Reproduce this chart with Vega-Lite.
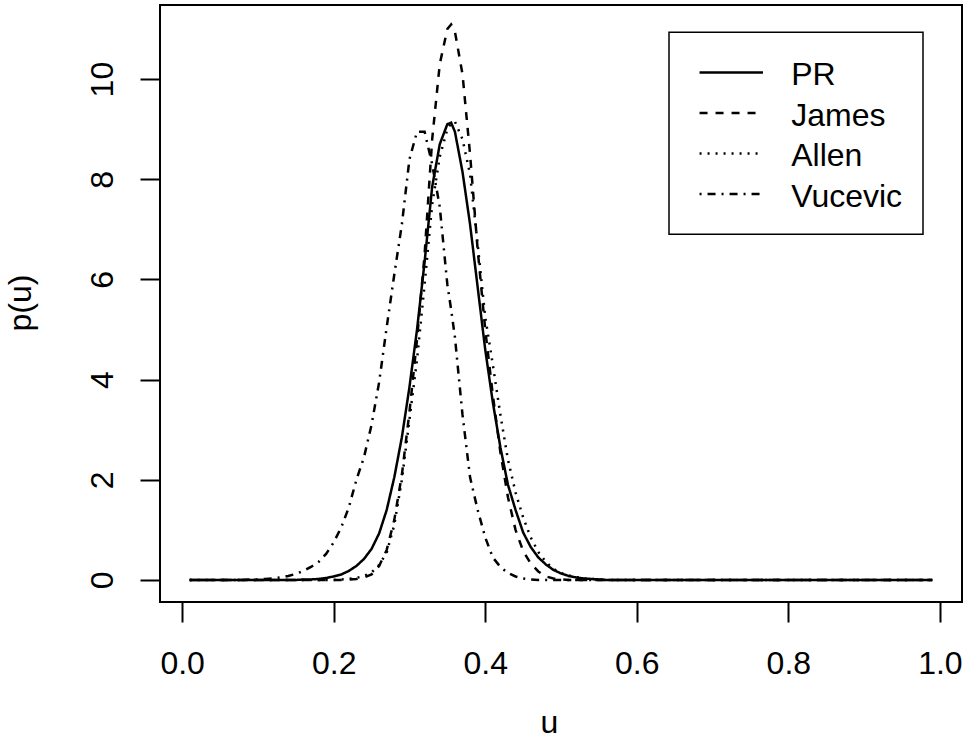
{
  "$schema": "https://vega.github.io/schema/vega-lite/v6.json",
  "width": 802,
  "height": 597,
  "autosize": "none",
  "padding": {"left": 160, "top": 5, "right": 10, "bottom": 137},
  "background": "white",
  "config": {
    "view": {"stroke": "black", "strokeWidth": 2},
    "axis": {
      "domain": false,
      "grid": false,
      "tickColor": "black",
      "tickWidth": 2,
      "tickSize": 20,
      "labelFont": "Liberation Sans",
      "labelFontSize": 32,
      "labelColor": "black",
      "titleFont": "Liberation Sans",
      "titleFontSize": 32,
      "titleFontWeight": "normal",
      "titleColor": "black",
      "labelFlush": false,
      "labelOverlap": false
    },
    "legend": {
      "labelFont": "Liberation Sans",
      "labelFontSize": 32,
      "labelColor": "black"
    }
  },
  "data": {
    "values": [
      {"u": 0.01, "PR": 0, "James": 0, "Allen": 0, "Vucevic": 0},
      {"u": 0.02, "PR": 0, "James": 0, "Allen": 0, "Vucevic": 0},
      {"u": 0.03, "PR": 0, "James": 0, "Allen": 0, "Vucevic": 0},
      {"u": 0.04, "PR": 0, "James": 0, "Allen": 0, "Vucevic": 0},
      {"u": 0.05, "PR": 0, "James": 0, "Allen": 0, "Vucevic": 0},
      {"u": 0.06, "PR": 0, "James": 0, "Allen": 0, "Vucevic": 0},
      {"u": 0.07, "PR": 0, "James": 0, "Allen": 0, "Vucevic": 0},
      {"u": 0.08, "PR": 0, "James": 0, "Allen": 0, "Vucevic": 0},
      {"u": 0.09, "PR": 0, "James": 0, "Allen": 0, "Vucevic": 0.01},
      {"u": 0.10, "PR": 0, "James": 0, "Allen": 0, "Vucevic": 0.01},
      {"u": 0.11, "PR": 0, "James": 0, "Allen": 0, "Vucevic": 0.02},
      {"u": 0.12, "PR": 0, "James": 0, "Allen": 0, "Vucevic": 0.03},
      {"u": 0.13, "PR": 0, "James": 0, "Allen": 0, "Vucevic": 0.05},
      {"u": 0.14, "PR": 0, "James": 0, "Allen": 0, "Vucevic": 0.08},
      {"u": 0.15, "PR": 0, "James": 0, "Allen": 0, "Vucevic": 0.12},
      {"u": 0.16, "PR": 0.01, "James": 0, "Allen": 0, "Vucevic": 0.18},
      {"u": 0.17, "PR": 0.01, "James": 0, "Allen": 0, "Vucevic": 0.26},
      {"u": 0.18, "PR": 0.02, "James": 0, "Allen": 0, "Vucevic": 0.36},
      {"u": 0.19, "PR": 0.04, "James": 0, "Allen": 0, "Vucevic": 0.52},
      {"u": 0.20, "PR": 0.07, "James": 0, "Allen": 0, "Vucevic": 0.75},
      {"u": 0.21, "PR": 0.11, "James": 0, "Allen": 0.01, "Vucevic": 1.05},
      {"u": 0.22, "PR": 0.18, "James": 0.01, "Allen": 0.02, "Vucevic": 1.45},
      {"u": 0.23, "PR": 0.28, "James": 0.02, "Allen": 0.04, "Vucevic": 2.0},
      {"u": 0.24, "PR": 0.42, "James": 0.05, "Allen": 0.08, "Vucevic": 2.45},
      {"u": 0.25, "PR": 0.62, "James": 0.11, "Allen": 0.15, "Vucevic": 3.1},
      {"u": 0.26, "PR": 0.93, "James": 0.28, "Allen": 0.3, "Vucevic": 3.95},
      {"u": 0.27, "PR": 1.4, "James": 0.6, "Allen": 0.55, "Vucevic": 5.05},
      {"u": 0.28, "PR": 2.05, "James": 1.2, "Allen": 1.1, "Vucevic": 6.1},
      {"u": 0.29, "PR": 2.85, "James": 2.1, "Allen": 2.0, "Vucevic": 7.1},
      {"u": 0.30, "PR": 3.85, "James": 3.35, "Allen": 3.2, "Vucevic": 8.4},
      {"u": 0.31, "PR": 5.0, "James": 4.8, "Allen": 4.4, "Vucevic": 8.95},
      {"u": 0.32, "PR": 6.35, "James": 6.5, "Allen": 5.9, "Vucevic": 8.95},
      {"u": 0.33, "PR": 7.85, "James": 8.8, "Allen": 7.5, "Vucevic": 8.3},
      {"u": 0.34, "PR": 8.7, "James": 10.3, "Allen": 8.45, "Vucevic": 7.45},
      {"u": 0.35, "PR": 9.1, "James": 11.0, "Allen": 9.0, "Vucevic": 5.9},
      {"u": 0.355, "PR": 9.13, "James": 11.09, "Allen": 9.12, "Vucevic": 5.4},
      {"u": 0.36, "PR": 8.95, "James": 10.95, "Allen": 9.15, "Vucevic": 4.85},
      {"u": 0.37, "PR": 8.15, "James": 10.1, "Allen": 8.8, "Vucevic": 3.3},
      {"u": 0.38, "PR": 7.1, "James": 8.5, "Allen": 8.1, "Vucevic": 2.05},
      {"u": 0.39, "PR": 5.85, "James": 6.6, "Allen": 6.7, "Vucevic": 1.4},
      {"u": 0.40, "PR": 4.6, "James": 5.0, "Allen": 5.25, "Vucevic": 0.85},
      {"u": 0.41, "PR": 3.55, "James": 3.7, "Allen": 4.3, "Vucevic": 0.45},
      {"u": 0.42, "PR": 2.65, "James": 2.55, "Allen": 3.3, "Vucevic": 0.26},
      {"u": 0.43, "PR": 1.9, "James": 1.65, "Allen": 2.4, "Vucevic": 0.14},
      {"u": 0.44, "PR": 1.4, "James": 1.0, "Allen": 1.75, "Vucevic": 0.07},
      {"u": 0.45, "PR": 0.95, "James": 0.58, "Allen": 1.25, "Vucevic": 0.03},
      {"u": 0.46, "PR": 0.66, "James": 0.33, "Allen": 0.85, "Vucevic": 0.01},
      {"u": 0.47, "PR": 0.45, "James": 0.17, "Allen": 0.56, "Vucevic": 0},
      {"u": 0.48, "PR": 0.31, "James": 0.07, "Allen": 0.36, "Vucevic": 0},
      {"u": 0.49, "PR": 0.2, "James": 0.03, "Allen": 0.22, "Vucevic": 0},
      {"u": 0.50, "PR": 0.13, "James": 0.01, "Allen": 0.14, "Vucevic": 0},
      {"u": 0.51, "PR": 0.08, "James": 0, "Allen": 0.09, "Vucevic": 0},
      {"u": 0.52, "PR": 0.05, "James": 0, "Allen": 0.06, "Vucevic": 0},
      {"u": 0.53, "PR": 0.03, "James": 0, "Allen": 0.03, "Vucevic": 0},
      {"u": 0.54, "PR": 0.02, "James": 0, "Allen": 0.02, "Vucevic": 0},
      {"u": 0.55, "PR": 0.01, "James": 0, "Allen": 0.01, "Vucevic": 0},
      {"u": 0.56, "PR": 0, "James": 0, "Allen": 0, "Vucevic": 0},
      {"u": 0.57, "PR": 0, "James": 0, "Allen": 0, "Vucevic": 0},
      {"u": 0.58, "PR": 0, "James": 0, "Allen": 0, "Vucevic": 0},
      {"u": 0.59, "PR": 0, "James": 0, "Allen": 0, "Vucevic": 0},
      {"u": 0.60, "PR": 0, "James": 0, "Allen": 0, "Vucevic": 0},
      {"u": 0.61, "PR": 0, "James": 0, "Allen": 0, "Vucevic": 0},
      {"u": 0.62, "PR": 0, "James": 0, "Allen": 0, "Vucevic": 0},
      {"u": 0.63, "PR": 0, "James": 0, "Allen": 0, "Vucevic": 0},
      {"u": 0.64, "PR": 0, "James": 0, "Allen": 0, "Vucevic": 0},
      {"u": 0.65, "PR": 0, "James": 0, "Allen": 0, "Vucevic": 0},
      {"u": 0.66, "PR": 0, "James": 0, "Allen": 0, "Vucevic": 0},
      {"u": 0.67, "PR": 0, "James": 0, "Allen": 0, "Vucevic": 0},
      {"u": 0.68, "PR": 0, "James": 0, "Allen": 0, "Vucevic": 0},
      {"u": 0.69, "PR": 0, "James": 0, "Allen": 0, "Vucevic": 0},
      {"u": 0.70, "PR": 0, "James": 0, "Allen": 0, "Vucevic": 0},
      {"u": 0.71, "PR": 0, "James": 0, "Allen": 0, "Vucevic": 0},
      {"u": 0.72, "PR": 0, "James": 0, "Allen": 0, "Vucevic": 0},
      {"u": 0.73, "PR": 0, "James": 0, "Allen": 0, "Vucevic": 0},
      {"u": 0.74, "PR": 0, "James": 0, "Allen": 0, "Vucevic": 0},
      {"u": 0.75, "PR": 0, "James": 0, "Allen": 0, "Vucevic": 0},
      {"u": 0.76, "PR": 0, "James": 0, "Allen": 0, "Vucevic": 0},
      {"u": 0.77, "PR": 0, "James": 0, "Allen": 0, "Vucevic": 0},
      {"u": 0.78, "PR": 0, "James": 0, "Allen": 0, "Vucevic": 0},
      {"u": 0.79, "PR": 0, "James": 0, "Allen": 0, "Vucevic": 0},
      {"u": 0.80, "PR": 0, "James": 0, "Allen": 0, "Vucevic": 0},
      {"u": 0.81, "PR": 0, "James": 0, "Allen": 0, "Vucevic": 0},
      {"u": 0.82, "PR": 0, "James": 0, "Allen": 0, "Vucevic": 0},
      {"u": 0.83, "PR": 0, "James": 0, "Allen": 0, "Vucevic": 0},
      {"u": 0.84, "PR": 0, "James": 0, "Allen": 0, "Vucevic": 0},
      {"u": 0.85, "PR": 0, "James": 0, "Allen": 0, "Vucevic": 0},
      {"u": 0.86, "PR": 0, "James": 0, "Allen": 0, "Vucevic": 0},
      {"u": 0.87, "PR": 0, "James": 0, "Allen": 0, "Vucevic": 0},
      {"u": 0.88, "PR": 0, "James": 0, "Allen": 0, "Vucevic": 0},
      {"u": 0.89, "PR": 0, "James": 0, "Allen": 0, "Vucevic": 0},
      {"u": 0.90, "PR": 0, "James": 0, "Allen": 0, "Vucevic": 0},
      {"u": 0.91, "PR": 0, "James": 0, "Allen": 0, "Vucevic": 0},
      {"u": 0.92, "PR": 0, "James": 0, "Allen": 0, "Vucevic": 0},
      {"u": 0.93, "PR": 0, "James": 0, "Allen": 0, "Vucevic": 0},
      {"u": 0.94, "PR": 0, "James": 0, "Allen": 0, "Vucevic": 0},
      {"u": 0.95, "PR": 0, "James": 0, "Allen": 0, "Vucevic": 0},
      {"u": 0.96, "PR": 0, "James": 0, "Allen": 0, "Vucevic": 0},
      {"u": 0.97, "PR": 0, "James": 0, "Allen": 0, "Vucevic": 0},
      {"u": 0.98, "PR": 0, "James": 0, "Allen": 0, "Vucevic": 0},
      {"u": 0.99, "PR": 0, "James": 0, "Allen": 0, "Vucevic": 0}
    ]
  },
  "transform": [{"fold": ["PR", "James", "Allen", "Vucevic"], "as": ["s", "p"]}],
  "mark": {"type": "line", "color": "black", "strokeWidth": 2.5},
  "encoding": {
    "x": {
      "field": "u",
      "type": "quantitative",
      "scale": {"domain": [-0.0292, 1.0292], "nice": false, "zero": false},
      "axis": {
        "values": [0, 0.2, 0.4, 0.6, 0.8, 1],
        "format": ".1f",
        "title": "u",
        "labelBaseline": "alphabetic",
        "labelPadding": 51,
        "titleX": 389,
        "titleY": 130,
        "titleAlign": "center",
        "titleBaseline": "alphabetic"
      }
    },
    "y": {
      "field": "p",
      "type": "quantitative",
      "scale": {"domain": [-0.44, 11.48], "nice": false, "zero": false},
      "axis": {
        "values": [0, 2, 4, 6, 8, 10],
        "format": "d",
        "title": "p(u)",
        "labelAngle": -90,
        "labelAlign": "center",
        "labelBaseline": "alphabetic",
        "labelPadding": 28,
        "titleAngle": -90,
        "titleX": -129.5,
        "titleY": 297.5,
        "titleAlign": "center",
        "titleBaseline": "alphabetic"
      }
    },
    "strokeDash": {
      "field": "s",
      "type": "nominal",
      "scale": {
        "domain": ["PR", "James", "Allen", "Vucevic"],
        "range": [[1, 0], [8, 8], [2, 6], [2, 6, 8, 6]]
      },
      "legend": {
        "title": null,
        "orient": "none",
        "legendX": 509,
        "legendY": 27.3,
        "padding": 20.25,
        "strokeColor": "black",
        "fillColor": "white",
        "symbolType": "stroke",
        "symbolSize": 4020,
        "symbolStrokeWidth": 2.5,
        "symbolStrokeColor": "black",
        "symbolOffset": 9,
        "labelOffset": 27,
        "clipHeight": 40,
        "rowPadding": 0.5,
        "labelFontSize": 32,
        "labelFont": "Liberation Sans",
        "encode": {
          "legend": {"update": {"strokeWidth": {"value": 1.5}}},
          "labels": {"update": {"dy": {"value": 2.5}}}
        }
      }
    }
  }
}
